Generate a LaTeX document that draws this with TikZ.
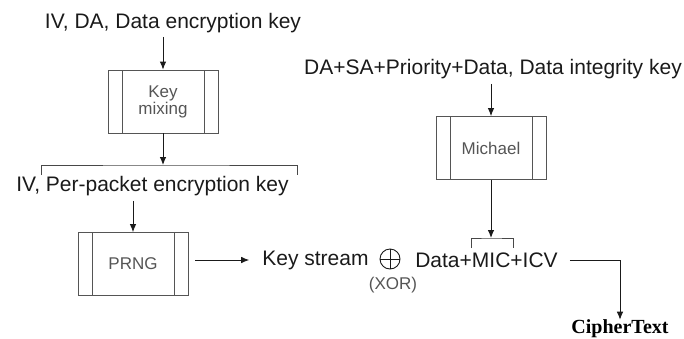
\documentclass[tikz,border=0pt]{standalone}
\usepackage{fontspec}
\setmainfont{Liberation Sans}
\newfontfamily\cipherfont{Liberation Serif}
\usetikzlibrary{arrows.meta, positioning}
\definecolor{ink}{HTML}{1A1A1A}
\definecolor{boxgray}{HTML}{555555}

\tikzset{
  lbl/.style={text=ink, font=\fontsize{21}{23}\selectfont, inner sep=0pt},
  sublbl/.style={text=boxgray, font=\fontsize{17}{17}\selectfont, inner sep=0pt},
  procbox/.style={draw=boxgray, line width=0.8pt, minimum width=110pt, minimum height=63pt,
    text=boxgray, font=\fontsize{17}{15}\selectfont, align=center,
    path picture={\draw[boxgray, line width=0.8pt]
      ([xshift=14pt]path picture bounding box.north west) -- ([xshift=14pt]path picture bounding box.south west)
      ([xshift=-14pt]path picture bounding box.north east) -- ([xshift=-14pt]path picture bounding box.south east);}},
  flow/.style={draw=ink, line width=0.9pt, -{Latex[length=8pt,width=6.5pt]}},
  brace/.style={draw=ink!80, line width=0.8pt}
}

\begin{document}
\begin{tikzpicture}[x=1pt, y=-1pt]
  \useasboundingbox (0,0) rectangle (684,338);
  % left branch: key mixing and PRNG
  \node[lbl] (dek) at (173,23) {IV, DA, Data encryption key};
  \node[procbox] (mix) at (163,101.5) {Key\\mixing};
  \coordinate (brM) at (163,165);
  \coordinate (brL) at (41,175);
  \coordinate (brR) at (297,175);
  \node[lbl] (ppk) at (152.5,186) {IV, Per-packet encryption key};
  \node[procbox] (prng) at (133,264) {PRNG};
  \draw[flow, shorten <=4pt] (dek.south -| mix.north) -- (mix.north);
  \draw[flow] (mix.south) -- (brM);
  \draw[brace] (brL) |- (brM) -| (brR);
  \draw[flow, shorten <=5pt] (ppk.south -| prng.north) -- (prng.north);

  % XOR stage
  \node[lbl] (ks) at (315.5,260) {Key stream};
  \node[circle, draw=ink, line width=0.9pt, minimum size=20pt, inner sep=0pt] (xor) at (390,259) {};
  \draw[ink, line width=0.9pt] (xor.north) -- (xor.south) (xor.west) -- (xor.east);
  \node[sublbl] (xorlbl) at (393,285) {(XOR)};
  \node[lbl] (dmi) at (486.5,260) {Data+MIC+ICV};
  \draw[flow, shorten <=7pt, shorten >=13pt] (ks.west -| prng.east) -- (ks.west);

  % right branch: Michael
  \node[lbl] (dik) at (493,69) {DA+SA+Priority+Data, Data integrity key};
  \node[procbox] (mic) at (491,148) {Michael};
  \coordinate (b2M) at (491,238);
  \coordinate (b2L) at (471,248);
  \coordinate (b2R) at (513,248);
  \draw[flow, shorten <=5pt] (dik.south -| mic.north) -- (mic.north);
  \draw[flow] (mic.south) -- (b2M);
  \draw[brace] (b2L) |- (b2M) -| (b2R);

  % output
  \node[text=black, font=\cipherfont\bfseries\fontsize{20}{20}\selectfont, inner sep=0pt] (ct) at (620,329) {CipherText};
  \draw[flow, shorten <=12pt] (dmi.east) -| (ct.north);
\end{tikzpicture}
\end{document}
